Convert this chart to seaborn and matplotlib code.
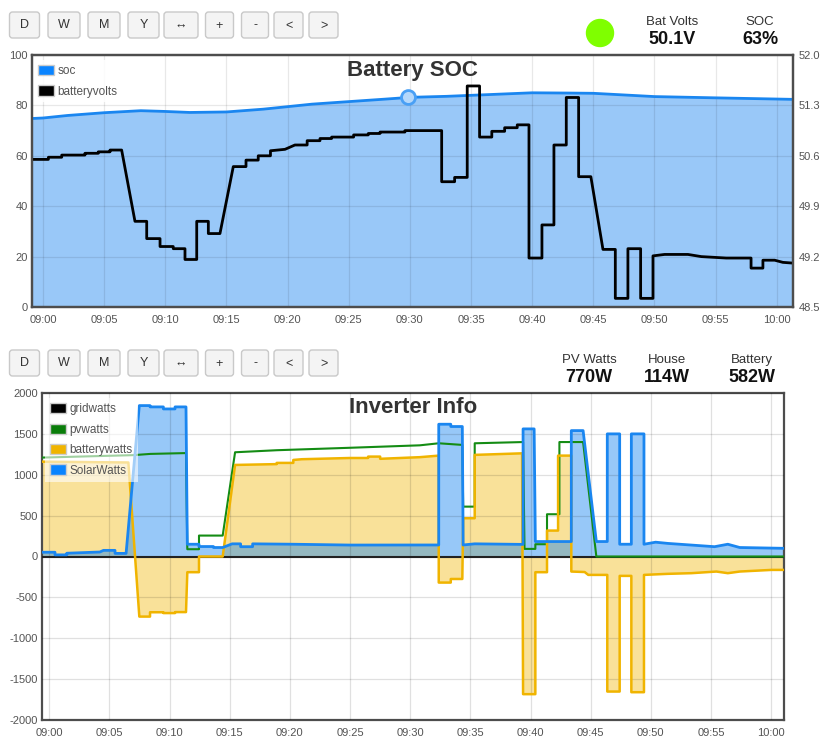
import numpy as np
import pandas as pd
import seaborn as sns
import matplotlib.pyplot as plt
from matplotlib.patches import Patch, FancyBboxPatch, Circle

# %%
# data, minutes after 09:00, as (minute, value) points
soc_pts = [(-0.9, 74.8), (0, 75.0), (2, 76.0), (5, 77.1), (8, 77.9), (10, 77.6), (12, 77.2), (15, 77.4),
           (18, 78.5), (20, 79.5), (22, 80.5), (25, 81.5), (28, 82.5), (30, 83.2), (33, 83.6),
           (36, 84.2), (40, 85.0), (43, 84.9), (45, 84.8), (50, 83.5), (55, 83.0), (61.3, 82.4)]

volt_pts = [(-0.9, 50.55), (0.44, 50.55), (0.44, 50.58), (1.53, 50.58), (1.53, 50.61), (3.43, 50.61),
            (3.43, 50.635), (4.52, 50.635), (4.52, 50.655), (5.48, 50.655), (5.48, 50.68), (6.43, 50.68),
            (7.52, 49.69), (8.48, 49.69), (8.48, 49.45), (9.57, 49.45), (9.57, 49.34), (10.65, 49.34),
            (10.65, 49.31), (11.61, 49.31), (11.61, 49.16), (12.57, 49.16), (12.57, 49.69), (13.52, 49.69),
            (13.52, 49.52), (14.47, 49.52), (15.56, 50.45), (16.6, 50.45), (16.6, 50.54), (17.6, 50.54),
            (17.6, 50.60), (18.6, 50.60), (18.6, 50.67), (19.79, 50.69), (20.6, 50.75), (21.6, 50.75),
            (21.6, 50.81), (22.65, 50.81), (22.65, 50.84), (23.6, 50.84), (23.6, 50.86), (25.4, 50.86),
            (25.4, 50.89), (26.6, 50.89), (26.6, 50.91), (27.56, 50.91), (27.56, 50.93), (29.6, 50.93),
            (29.6, 50.95), (32.6, 50.95), (32.6, 50.24), (33.66, 50.24), (33.66, 50.30), (34.69, 50.30),
            (34.69, 51.57), (35.7, 51.57), (35.7, 50.86), (36.7, 50.86), (36.7, 50.94), (37.75, 50.94),
            (37.75, 50.99), (38.78, 50.99), (38.78, 51.03), (39.74, 51.03), (39.74, 49.18), (40.8, 49.18),
            (40.8, 49.64), (41.78, 49.64), (41.78, 50.75), (42.79, 50.75), (42.79, 51.41), (43.8, 51.41),
            (43.8, 50.31), (44.8, 50.31), (45.79, 49.30), (46.8, 49.30), (46.8, 48.62), (47.83, 48.62),
            (47.83, 49.31), (48.87, 49.31), (48.87, 48.62), (49.88, 48.62), (49.88, 49.21), (50.83, 49.23),
            (52.74, 49.23), (53.83, 49.20), (55.87, 49.18), (57.9, 49.18), (57.9, 49.04), (58.87, 49.04),
            (58.87, 49.15), (59.83, 49.15), (60.5, 49.12), (61.3, 49.11)]

grid_pts = [(-0.61, 0), (61.07, 0)]

pv_pts = [(-0.61, 1210), (7.0, 1240), (8.4, 1255), (11.36, 1265), (11.47, 89), (12.44, 89), (12.44, 256),
          (14.41, 256), (15.44, 1275), (18.9, 1300), (25.0, 1330), (30.8, 1360), (32.37, 1385),
          (34.33, 1365), (34.4, 610), (35.36, 610), (35.36, 1385), (39.38, 1400), (39.5, 93), (40.4, 93),
          (40.4, 150), (41.37, 150), (41.37, 517), (42.4, 517), (42.4, 1400), (44.37, 1400), (45.47, 0),
          (61.07, 0)]

batt_pts = [(-0.61, 1160), (6.57, 1150), (7.48, -735), (8.37, -735), (8.37, -682), (9.48, -682),
            (9.48, -692), (10.45, -692), (10.45, -680), (11.36, -680), (11.47, -192), (12.44, -192),
            (12.44, 0), (14.41, 0), (15.44, 1120), (18.9, 1130), (18.9, 1145), (20.28, 1145),
            (20.28, 1181), (21.0, 1190), (25.0, 1205), (26.5, 1205), (26.5, 1222), (27.5, 1222),
            (27.5, 1195), (30.8, 1215), (32.37, 1234), (32.37, -319), (33.37, -319), (33.37, -275),
            (34.33, -275), (34.4, 468), (35.36, 468), (35.36, 1243), (39.3, 1262), (39.38, -1684),
            (40.4, -1684), (40.4, -192), (41.37, -192), (41.37, 317), (42.29, 317), (42.29, 1234),
            (43.39, 1234), (43.39, -184), (44.5, -190), (44.8, -225), (46.38, -225), (46.38, -1652),
            (47.41, -1652), (47.41, -237), (48.38, -237), (48.38, -1660), (49.43, -1660), (49.43, -225),
            (51.43, -212), (53.37, -204), (55.45, -184), (56.4, -204), (57.39, -184), (60.02, -164),
            (61.07, -164)]

solar_pts = [(-0.61, 52), (0.47, 52), (0.47, 20), (1.45, 20), (1.45, 40), (4.2, 55), (4.5, 75), (5.46, 75),
             (5.46, 38), (6.38, 38), (7.48, 1846), (8.37, 1846), (8.37, 1830), (9.48, 1830), (9.48, 1805),
             (10.45, 1805), (10.45, 1830), (11.36, 1830), (11.47, 150), (12.44, 150), (12.44, 122),
             (13.64, 122), (13.64, 110), (14.41, 110), (15.2, 155), (15.9, 155), (15.9, 120), (16.9, 120),
             (16.9, 155), (20.3, 150), (25.0, 140), (32.37, 141), (32.37, 1618), (33.37, 1618),
             (33.37, 1590), (34.33, 1590), (34.4, 141), (35.36, 155), (39.38, 148), (39.38, 1561),
             (40.3, 1561), (40.4, 183), (43.39, 183), (43.39, 1540), (44.37, 1540), (45.47, 183),
             (46.38, 183), (46.38, 1500), (47.41, 1500), (47.41, 150), (48.38, 150), (48.38, 1500),
             (49.43, 1500), (49.43, 150), (50.4, 175), (51.43, 160), (55.3, 120), (56.4, 150),
             (57.39, 110), (61.07, 100)]

soc_t, soc_v = map(list, zip(*soc_pts))
volt_t, volt_v = map(list, zip(*volt_pts))
grid_t, grid_v = map(list, zip(*grid_pts))
pv_t, pv_v = map(list, zip(*pv_pts))
batt_t, batt_v = map(list, zip(*batt_pts))
solar_t, solar_v = map(list, zip(*solar_pts))

tick_pos = list(range(0, 61, 5))
tick_lab = ['09:00', '09:05', '09:10', '09:15', '09:20', '09:25', '09:30',
            '09:35', '09:40', '09:45', '09:50', '09:55', '10:00']

# %%
sns.set_theme(style='white')
plt.rcParams['font.family'] = ['Liberation Sans', 'DejaVu Sans']
plt.rcParams['axes.unicode_minus'] = False

W, H = 838, 750
fig = plt.figure(figsize=(W / 100, H / 100), dpi=100)


def rect(l, t, r, b):
    return [l / W, 1 - b / H, (r - l) / W, (b - t) / H]


# header / buttons overlay
ax0 = fig.add_axes([0, 0, 1, 1])
ax0.set_xlim(0, W)
ax0.set_ylim(H, 0)
ax0.axis('off')

btn_lab = ['D', 'W', 'M', 'Y', '\u2194', '+', '-', '<', '>']
btn_cx = [24.5, 64, 104, 143.5, 181, 219.5, 255, 288.5, 323.5]
btn_w = [30, 32, 32, 31, 34, 28, 27, 29, 29]
for row_top in [12, 350]:
    for lab, cx, bw in zip(btn_lab, btn_cx, btn_w):
        ax0.add_patch(FancyBboxPatch((cx - bw / 2, row_top), bw, 26,
                                     boxstyle='round,pad=0,rounding_size=3',
                                     fc='#f4f4f4', ec='#c9c9c9', lw=1))
        ax0.text(cx, row_top + 13.5, lab, ha='center', va='center', fontsize=9, color='#333333')

ax0.add_patch(Circle((600, 33), 13.5, color='#7fff00'))
for cx, lab, val in [(672, 'Bat Volts', '50.1V'), (760, 'SOC', '63%')]:
    ax0.text(cx, 22, lab, ha='center', va='center', fontsize=9.5, color='#333333')
    ax0.text(cx, 40, val, ha='center', va='center', fontsize=13, fontweight='bold', color='#111111')
for cx, lab, val in [(589, 'PV Watts', '770W'), (667, 'House', '114W'), (752, 'Battery', '582W')]:
    ax0.text(cx, 360, lab, ha='center', va='center', fontsize=9.5, color='#333333')
    ax0.text(cx, 378, val, ha='center', va='center', fontsize=13, fontweight='bold', color='#111111')

tick_col = '#545454'
frame_col = '#4d4d4d'


def style_axes(ax):
    for s in ax.spines.values():
        s.set_color(frame_col)
        s.set_linewidth(1.6)
    ax.tick_params(length=0, labelsize=8, labelcolor=tick_col)
    ax.set_xlabel('')
    ax.set_ylabel('')


# %%
# Battery SOC
ax1 = fig.add_axes(rect(32, 55, 793, 307))
ax1.fill_between(soc_t, soc_v, 0, color='#99c8f8', lw=0, zorder=1)
sns.lineplot(x=soc_t, y=soc_v, ax=ax1, color='#1a86f0', lw=2, sort=False, estimator=None, zorder=3)
ax1.plot([29.85], [83.3], 'o', ms=10, mfc='#b5d8fb', mec='#4aa0f5', mew=2, zorder=4)
ax1.set_xlim(-0.9, 61.33)
ax1.set_ylim(0, 100)
ax1.set_xticks(tick_pos)
ax1.set_xticklabels(tick_lab)
ax1.set_yticks([0, 20, 40, 60, 80, 100])
ax1.set_axisbelow(False)
ax1.grid(True, color='black', alpha=0.09, lw=0.9)
style_axes(ax1)
ax1.tick_params(axis='x', pad=6)
ax1.tick_params(axis='y', pad=3)

ax2 = ax1.twinx()
sns.lineplot(x=volt_t, y=volt_v, ax=ax2, color='black', lw=2, sort=False, estimator=None)
ax2.set_ylim(48.5, 52.0)
rt = [48.5, 49.2, 49.9, 50.6, 51.3, 52.0]
ax2.set_yticks(rt)
ax2.set_yticklabels([f'{v:.1f}' for v in rt])
style_axes(ax2)
ax2.tick_params(axis='y', pad=4)
ax2.set_xlim(-0.9, 61.33)

ax2.text(0.5, 0.94, 'Battery SOC', transform=ax2.transAxes, ha='center', va='center',
         fontsize=16, fontweight='bold', color='#333333')
h1 = [Patch(fc='#0a84ff', ec='#cccccc', lw=1), Patch(fc='black', ec='#cccccc', lw=1)]
leg1 = ax2.legend(h1, ['soc', 'batteryvolts'], loc='upper left', bbox_to_anchor=(0.002, 0.98),
                  fontsize=8.5, handlelength=1.3, handleheight=0.95, handletextpad=0.35,
                  labelspacing=0.72, borderpad=0.4, borderaxespad=0, frameon=True,
                  framealpha=0.85, edgecolor='none', fancybox=False)
for t in leg1.get_texts():
    t.set_color(tick_col)

# %%
# Inverter Info
ax3 = fig.add_axes(rect(42, 393, 784, 720))
ax3.fill_between(batt_t, batt_v, 0, color='#f0b400', alpha=0.4, lw=0, zorder=1)
ax3.fill_between(solar_t, solar_v, 0, color='#1a86f0', alpha=0.45, lw=0, zorder=1.2)
sns.lineplot(x=grid_t, y=grid_v, ax=ax3, color='#222222', lw=1.5, sort=False, estimator=None, zorder=3)
sns.lineplot(x=pv_t, y=pv_v, ax=ax3, color='#148c14', lw=1.5, sort=False, estimator=None, zorder=3)
sns.lineplot(x=batt_t, y=batt_v, ax=ax3, color='#f0b400', lw=1.8, sort=False, estimator=None, zorder=3)
sns.lineplot(x=solar_t, y=solar_v, ax=ax3, color='#1a86f0', lw=2, sort=False, estimator=None, zorder=3)
ax3.set_xlim(-0.61, 61.07)
ax3.set_ylim(-2000, 2000)
ax3.set_xticks(tick_pos)
ax3.set_xticklabels(tick_lab)
ax3.set_yticks(list(range(-2000, 2001, 500)))
ax3.set_axisbelow(False)
ax3.grid(True, color='black', alpha=0.12, lw=0.9)
style_axes(ax3)
ax3.tick_params(axis='x', pad=6)
ax3.tick_params(axis='y', pad=3)
ax3.text(0.5, 0.955, 'Inverter Info', transform=ax3.transAxes, ha='center', va='center',
         fontsize=16, fontweight='bold', color='#333333')
h3 = [Patch(fc='black', ec='#cccccc', lw=1), Patch(fc='#0a7d0a', ec='#cccccc', lw=1),
      Patch(fc='#f0b400', ec='#cccccc', lw=1), Patch(fc='#0a84ff', ec='#cccccc', lw=1)]
leg3 = ax3.legend(h3, ['gridwatts', 'pvwatts', 'batterywatts', 'SolarWatts'], loc='upper left',
                  bbox_to_anchor=(0.004, 0.985), fontsize=8.5, handlelength=1.3, handleheight=0.95,
                  handletextpad=0.35, labelspacing=0.7, borderpad=0.45, borderaxespad=0,
                  frameon=True, framealpha=0.6, edgecolor='none', fancybox=False)
leg3.set_zorder(5)
for t in leg3.get_texts():
    t.set_color(tick_col)

fig.savefig('out.png', dpi=100)
